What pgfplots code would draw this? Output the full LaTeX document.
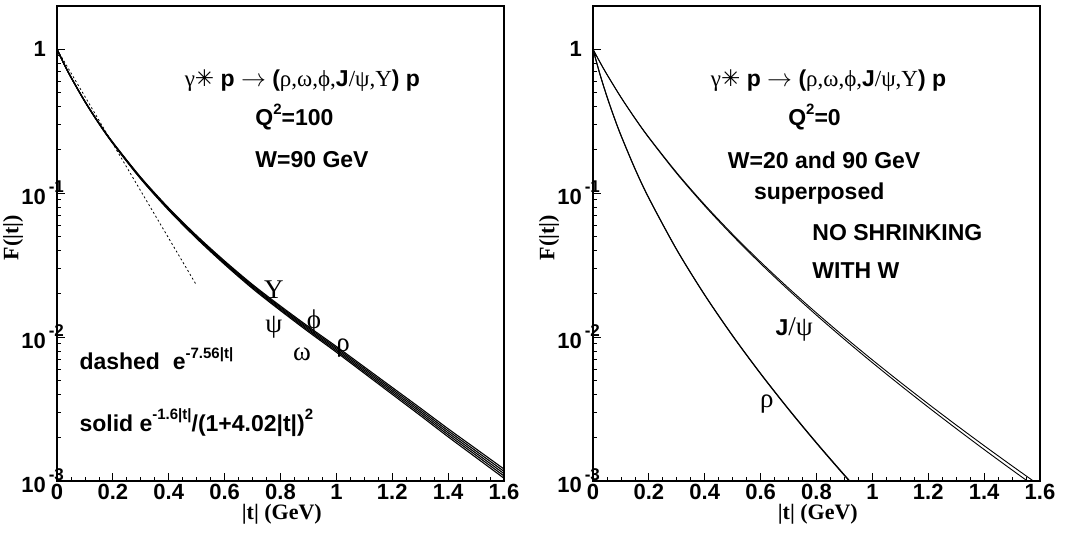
\documentclass[border=0pt]{standalone}
\usepackage{pgfplots}
\pgfplotsset{compat=1.18}
\usepackage{pgfplotstable}
\usepackage{fontspec}
\setmainfont{Liberation Sans}
\newfontfamily\tms{Liberation Serif}
\newfontfamily\dvs{DejaVu Sans}
\newcommand\lab{\fontsize{22}{26}\selectfont\bfseries}
\newcommand\txt{\fontsize{23}{27}\selectfont\bfseries}
\newcommand\gl{\fontsize{27}{30}\selectfont\tms\mdseries}
\newcommand\gk{\tms\mdseries}
\newcommand\ex[1]{\rlap{\hspace{3pt}\raisebox{0.55em}{\fontsize{17}{17}\selectfont\bfseries #1}}}
\newcommand\sups[1]{\raisebox{0.5em}{\fontsize{15}{15}\selectfont\bfseries #1}}

\pgfplotstableread{
t      A        B        M        D        E
0      1        1        1        1        1
0.025  0.7938   0.7936   0.7934   0.7932   0.7930
0.05   0.6412   0.6405   0.6397   0.6389   0.6382
0.1    0.4355   0.4345   0.4335   0.4325   0.4315
0.15   0.3083   0.3073   0.3062   0.3052   0.3041
0.2    0.2255   0.2244   0.2234   0.2224   0.2213
0.3    0.1289   0.1280   0.1271   0.1262   0.1254
0.4    0.07889  0.07817  0.07745  0.07674  0.07603
0.5    0.05070  0.05012  0.04955  0.04898  0.04842
0.6    0.03381  0.03335  0.03289  0.03244  0.03199
0.7    0.02318  0.02280  0.02244  0.02208  0.02173
0.8    0.01644  0.01614  0.01585  0.01556  0.01528
0.9    0.01183  0.01159  0.01135  0.01112  0.01089
1.0    0.008610 0.008414 0.008222 0.008035 0.007852
1.1    0.006204 0.006049 0.005897 0.005750 0.005606
1.2    0.004469 0.004347 0.004229 0.004113 0.004001
1.3    0.003219 0.003124 0.003032 0.002943 0.002856
1.4    0.002307 0.002234 0.002163 0.002094 0.002028
1.5    0.001672 0.001615 0.001560 0.001508 0.001456
1.6    0.001211 0.001167 0.001125 0.001084 0.001045
}\leftdata

\pgfplotstableread{
t      R1        R2
0      1         1
0.025  0.6693    0.6691
0.05   0.4687    0.4684
0.075  0.3395    0.3392
0.1    0.2525    0.2522
0.15   0.1484    0.1481
0.2    0.09247   0.09226
0.3    0.04045   0.04031
0.4    0.01965   0.01956
0.5    0.010224  0.010166
0.6    0.005588  0.005549
0.7    0.003167  0.003142
0.8    0.001847  0.001830
0.9    0.0011022 0.0010908
1.0    0.0006694 0.0006618
}\rhodata

\pgfplotstableread{
t      J1        J2
0      1         1
0.025  0.8135    0.8126
0.05   0.6690    0.6675
0.1    0.4652    0.4632
0.15   0.3332    0.3310
0.2    0.2443    0.2422
0.3    0.1387    0.1369
0.4    0.08305   0.08161
0.5    0.05177   0.05065
0.6    0.03327   0.03241
0.7    0.02190   0.02124
0.8    0.01471   0.01420
0.9    0.010035  0.009648
1.0    0.006941  0.006644
1.1    0.004859  0.004631
1.2    0.003435  0.003259
1.3    0.002449  0.002314
1.4    0.001760  0.001655
1.5    0.001274  0.001193
1.6    0.0009275 0.0008648
}\jpsidata

\pgfplotsset{every axis/.append style={
  width=447pt, height=475pt, scale only axis,
  xmin=0, xmax=1.6, ymin=1e-3, ymax=2,
  axis line style={line width=1.1pt},
  tick align=inside, xtick pos=bottom, ytick pos=left,
  major tick length=8pt, minor tick length=4pt,
  every tick/.style={black, line width=0.8pt},
  xtick={0,0.2,0.4,0.6,0.8,1,1.2,1.4,1.6},
  xticklabels={0,0.2,0.4,0.6,0.8,1,1.2,1.4,1.6},
  minor x tick num=3,
  ytick={0.001,0.01,0.1,1},
  yticklabels={10\ex{-3},10\ex{-2},10\ex{-1},1},
  minor ytick={0.002,0.003,0.004,0.005,0.006,0.007,0.008,0.009,
               0.02,0.03,0.04,0.05,0.06,0.07,0.08,0.09,
               0.2,0.3,0.4,0.5,0.6,0.7,0.8,0.9,2},
  ticklabel style={font=\lab},
  xticklabel style={inner sep=0pt, yshift=-3pt},
  yticklabel style={inner sep=0pt, xshift=-11pt},
  every axis x label/.style={at={(rel axis cs:0.503,-0.070)}, anchor=center},
  every axis y label/.style={at={(rel axis cs:-0.0984,0.512)}, anchor=center, rotate=90},
}}

\begin{document}
\begin{tikzpicture}
\useasboundingbox (0,0) rectangle (1076pt,536pt);

% left panel
\begin{semilogyaxis}[at={(57pt,55pt)}, anchor=south west,
  xlabel={\tms\lab |t| (GeV)}, ylabel={\tms\lab F(|t|)}]
\addplot[black, line width=1.1pt, smooth] table[x=t, y=A] {\leftdata};
\addplot[black, line width=1.1pt, smooth] table[x=t, y=B] {\leftdata};
\addplot[black, line width=1.1pt, smooth] table[x=t, y=M] {\leftdata};
\addplot[black, line width=1.1pt, smooth] table[x=t, y=D] {\leftdata};
\addplot[black, line width=1.1pt, smooth] table[x=t, y=E] {\leftdata};
\addplot[black, line width=0.8pt, dash pattern=on 2pt off 2.5pt] coordinates {(0,1) (0.25,0.1511) (0.5,0.02282)};

\node[font=\txt] at (rel axis cs:0.549,0.844) {{\gk γ}{\dvs\mdseries ✳} p $\rightarrow$ ({\gk ρ,ω,ϕ,}J{\gk /ψ,Υ}) p};
\node[font=\txt, anchor=west] at (rel axis cs:0.436,0.766) {Q\sups{2}=100};
\node[font=\txt, anchor=west] at (rel axis cs:0.436,0.676) {W=90 GeV};
\node[font=\gl] at (rel axis cs:0.485,0.402) {Υ};
\node[font=\gl] at (rel axis cs:0.485,0.324) {ψ};
\node[font=\gl] at (rel axis cs:0.575,0.335) {ϕ};
\node[font=\gl] at (rel axis cs:0.548,0.267) {ω};
\node[font=\gl] at (rel axis cs:0.640,0.280) {ρ};
\node[font=\txt, anchor=base west] at (rel axis cs:0.0425,0.2337) {dashed\ \ e\sups{-7.56|t|}};
\node[font=\txt, anchor=base west] at (rel axis cs:0.0425,0.105) {solid e\sups{-1.6|t|}/(1+4.02|t|)\sups{2}};
\end{semilogyaxis}

% right panel
\begin{semilogyaxis}[at={(593pt,55pt)}, anchor=south west,
  xlabel={\tms\lab |t| (GeV)}, ylabel={\tms\lab F(|t|)}]
\addplot[black, line width=1.0pt, smooth] table[x=t, y=R1] {\rhodata};
\addplot[black, line width=1.0pt, smooth] table[x=t, y=R2] {\rhodata};
\addplot[black, line width=0.9pt, smooth] table[x=t, y=J1] {\jpsidata};
\addplot[black, line width=0.9pt, smooth] table[x=t, y=J2] {\jpsidata};

\node[font=\txt] at (rel axis cs:0.527,0.844) {{\gk γ}{\dvs\mdseries ✳} p $\rightarrow$ ({\gk ρ,ω,ϕ,}J{\gk /ψ,Υ}) p};
\node[font=\txt] at (rel axis cs:0.4955,0.766) {Q\sups{2}=0};
\node[font=\txt] at (rel axis cs:0.517,0.676) {W=20 and 90 GeV};
\node[font=\txt] at (rel axis cs:0.506,0.606) {superposed};
\node[font=\txt, anchor=west] at (rel axis cs:0.483,0.522) {NO SHRINKING};
\node[font=\txt, anchor=west] at (rel axis cs:0.483,0.444) {WITH W};
\node[font=\txt] at (rel axis cs:0.450,0.318) {J{\gl /ψ}};
\node[font=\gl] at (rel axis cs:0.389,0.162) {ρ};
\end{semilogyaxis}
\end{tikzpicture}
\end{document}
